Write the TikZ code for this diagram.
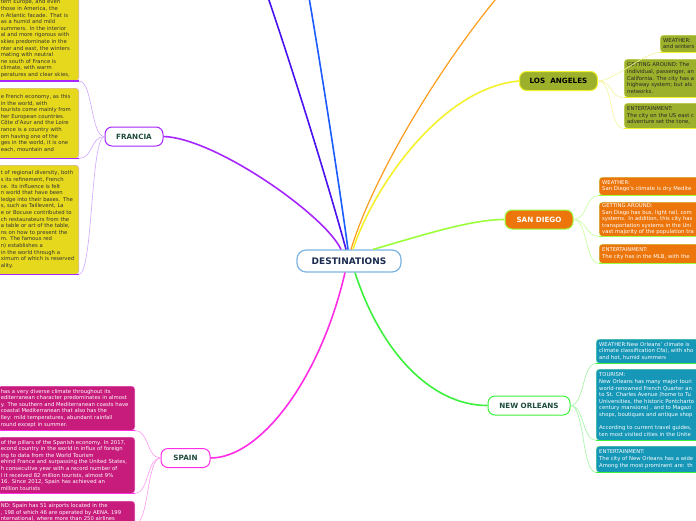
\documentclass[tikz,border=0pt]{standalone}
\usepackage{fontspec}
\setmainfont{DejaVu Sans}
\usepackage{xcolor}
\usepackage{tikz}
\usetikzlibrary{positioning}
\definecolor{rootblue}{HTML}{7CB4E2}
\definecolor{rootink}{HTML}{1B2B4F}
\definecolor{topicink}{HTML}{1E4B3C}
\definecolor{frpurple}{HTML}{A626FF}
\definecolor{frlight}{HTML}{D2A6FF}
\definecolor{frfill}{HTML}{E6D81C}
\definecolor{esmagenta}{HTML}{FF2EE6}
\definecolor{eslight}{HTML}{FF99F2}
\definecolor{esfill}{HTML}{C71C7C}
\definecolor{layellow}{HTML}{F4F22E}
\definecolor{lalight}{HTML}{F5F59A}
\definecolor{lafill}{HTML}{9CB02C}
\definecolor{sdlime}{HTML}{9CFF3C}
\definecolor{sdlight}{HTML}{C3FF9A}
\definecolor{sdfill}{HTML}{EC760C}
\definecolor{nogreen}{HTML}{3CF03C}
\definecolor{nolight}{HTML}{A0F5A0}
\definecolor{nofill}{HTML}{1697B7}
\definecolor{indigoline}{HTML}{4A12F0}
\definecolor{blueline}{HTML}{1C5CFF}
\definecolor{orangeline}{HTML}{FF9C1C}
\newcommand\leaffont{\fontsize{5.3}{6.6}\selectfont\hyphenpenalty=10000}
\newcommand\topicfont{\fontsize{7.2}{8.5}\selectfont\bfseries}
\tikzset{
  rootbox/.style={draw=rootblue,fill=white,line width=1.2pt,rounded corners=9pt,
    minimum width=104pt,minimum height=22pt,text=rootink,
    font=\fontsize{9}{10}\selectfont\bfseries},
  topicbox/.style={fill=white,line width=1pt,rounded corners=7pt,minimum height=19pt,
    inner xsep=4pt,font=\topicfont,text=topicink},
  leafbox/.style={rounded corners=3pt,inner xsep=3pt,inner ysep=1pt,align=left,
    font=\leaffont,line width=0.4pt},
  frleaf/.style={leafbox,fill=frfill,draw=frlight,text=black!80,text width=75pt,anchor=north east},
  esleaf/.style={leafbox,fill=esfill,draw=eslight,text=white,text width=131pt,anchor=north east},
  laleaf/.style={leafbox,fill=lafill,draw=lalight,text=black!85,text width=120pt,anchor=north west},
  sdleaf/.style={leafbox,fill=sdfill,draw=sdlight,text=white,text width=120pt,anchor=north west},
  noleaf/.style={leafbox,fill=nofill,draw=nolight,text=white,text width=120pt,anchor=north west},
  mainbranch/.style={line width=1.6pt},
  subbranch/.style={line width=0.6pt},
  underline/.style={line width=1.3pt}
}
\begin{document}
\begin{tikzpicture}[x=1pt,y=-1pt]
  \fill[white] (0,0) rectangle (696,520);
  \useasboundingbox (0,0) rectangle (696,520);

  % topics
  \node[rootbox] (dest) at (349,261) {DESTINATIONS};
  \node[topicbox,draw=frpurple,minimum width=58pt] (francia) at (134,136.5) {FRANCIA};
  \node[topicbox,draw=layellow,fill=lafill,text=black,minimum width=78pt] (la) at (558.5,81) {LOS\ \ ANGELES};
  \node[topicbox,draw=sdlime,fill=sdfill,text=white,minimum width=68pt] (sandiego) at (539,219.5) {SAN DIEGO};
  \node[topicbox,draw=nogreen,minimum width=82pt] (neworleans) at (529,405.5) {NEW ORLEANS};
  \node[topicbox,draw=esmagenta,minimum width=49pt] (spain) at (185.5,458) {SPAIN};
  \coordinate (offindigo) at (262,-20);
  \coordinate (offblue) at (306,-20);
  \coordinate (offorange) at (512,-20);

  % France
  \node[frleaf,anchor=south east,minimum height=84pt] (frclimate) at (79,81)
    {tern Europe, and even\\those in America, the\\n Atlantic facade. That is\\as a humid and mild\\
     summers. In the interior\\al and more rigorous with\\skies predominate in the\\
     nter and east, the winters\\mating with neutral\\ne south of France is\\
     climate, with warm\\peratures and clear skies,};
  \node[frleaf,minimum height=70pt] (frtourism) at (79,88)
    {e French economy, as this\\in the world, with\\tourists come mainly from\\
     her European countries.\\Côte d'Azur and the Loire\\rance is a country with\\
     om having one of the\\ges in the world, it is one\\each, mountain and};
  \node[frleaf,minimum height=109pt] (frcuisine) at (79,165)
    {t of regional diversity, both\\s its refinement, French\\ce. Its influence is felt\\
     n world that have been\\ledge into their bases. The\\s, such as Taillevent, La\\
     e or Bocuse contributed to\\ch restaurateurs from the\\a table or art of the table,\\
     ns on how to present the\\m. The famous red\\n) establishes a\\
     in the world through a\\ximum of which is reserved\\ality.};

  % Spain
  \node[esleaf,minimum height=44pt] (esclimate) at (135,386)
    {has a very diverse climate throughout its\\editerranean character predominates in almost\\
     y. The southern and Mediterranean coasts have\\coastal Mediterranean that also has the\\
     lley: mild temperatures, abundant rainfall\\round except in summer.};
  \node[esleaf,minimum height=56pt] (estourism) at (135,437)
    {of the pillars of the Spanish economy. In 2017,\\econd country in the world in influx of foreign\\
     ing to data from the World Tourism\\ehind France and surpassing the United States,\\
     h consecutive year with a record number of\\l it received 82 million tourists, almost 9\%\\
     16. Since 2012, Spain has achieved an\\million tourists};
  \node[esleaf,inner ysep=2.5pt] (esairports) at (135,501)
    {ND: Spain has 51 airports located in the\\, 198 of which 46 are operated by AENA. 199\\
     nternational, where more than 250 airlines};

  % Los Angeles
  \node[laleaf,minimum height=17pt] (laweather) at (660,35) {WEATHER:\\and winters};
  \node[laleaf,minimum height=38pt] (latransport) at (624,59)
    {GETTING AROUND: The\\individual, passenger, an\\California. The city has a\\highway system; but als\\networks.};
  \node[laleaf,minimum height=25pt] (lafun) at (624,103)
    {ENTERTAINMENT:\\The city on the US east c\\adventure set the tone,};

  % San Diego
  \node[sdleaf,minimum height=18pt] (sdweather) at (599,177)
    {WEATHER:\\San Diego's climate is dry Medite};
  \node[sdleaf,minimum height=34pt] (sdtransport) at (599,202)
    {GETTING AROUND:\\San Diego has bus, light rail, com\\systems. In addition, this city has\\
     transportation systems in the Uni\\vast majority of the population tra};
  \node[sdleaf,minimum height=19pt] (sdfun) at (599,244)
    {ENTERTAINMENT:\\The city has in the MLB, with the};

  % New Orleans
  \node[noleaf,minimum height=24pt] (noweather) at (596,339)
    {WEATHER:New Orleans' climate is\\climate classification Cfa), with sho\\and hot, humid summers};
  \node[noleaf,minimum height=71pt] (notourism) at (596,369)
    {TOURISM:\\New Orleans has many major touri\\world-renowned French Quarter an\\
     to St. Charles Avenue (home to Tu\\Universities, the historic Pontcharto\\
     century mansions) , and to Magazi\\shops, boutiques and antique shop\\[6.6pt]
     According to current travel guides,\\ten most visited cities in the Unite};
  \node[noleaf,minimum height=26pt] (nofun) at (596,446)
    {ENTERTAINMENT:\\The city of New Orleans has a wide\\Among the most prominent are: th};

  % main branches
  \draw[mainbranch,frpurple] ([xshift=-8pt]dest.north) .. controls (325,215) and (215,138) .. (francia.east);
  \draw[mainbranch,indigoline] ([xshift=-3pt]dest.north) .. controls (330,190) and (290,60) .. (offindigo);
  \draw[mainbranch,blueline] ([xshift=-1pt]dest.north) .. controls (340,190) and (320,60) .. (offblue);
  \draw[mainbranch,orangeline,line width=1.2pt] ([xshift=2pt]dest.north) .. controls (375,170) and (450,50) .. (offorange);
  \draw[mainbranch,layellow] ([xshift=4pt]dest.north) .. controls (372,190) and (440,88) .. (la.west);
  \draw[mainbranch,sdlime] ([xshift=24pt]dest.north) .. controls (420,236) and (470,219.5) .. (sandiego.west);
  \draw[mainbranch,nogreen] ([xshift=6pt]dest.south) .. controls (380,350) and (430,405.5) .. (neworleans.west);
  \draw[mainbranch,esmagenta] ([xshift=-4pt]dest.south) .. controls (320,380) and (260,458) .. (spain.east);

  % sub branches
  \foreach \leaf in {frclimate,frtourism,frcuisine}
    \draw[subbranch,frlight] (francia.west) .. controls +(-14,0) and +(14,0) .. (\leaf.south east);
  \foreach \leaf in {esclimate,estourism,esairports}
    \draw[subbranch,eslight] (spain.west) .. controls +(-14,0) and +(14,0) .. (\leaf.south east);
  \foreach \leaf in {laweather,latransport,lafun}
    \draw[subbranch,lalight] (la.east) .. controls +(16,0) and +(-16,0) .. (\leaf.south west);
  \foreach \leaf in {sdweather,sdtransport,sdfun}
    \draw[subbranch,sdlight] (sandiego.east) .. controls +(14,0) and +(-14,0) .. (\leaf.south west);
  \foreach \leaf in {noweather,notourism,nofun}
    \draw[subbranch,nolight] (neworleans.east) .. controls +(14,0) and +(-14,0) .. (\leaf.south west);

  % underlines
  \foreach \leaf in {frclimate,frtourism,frcuisine}
    \draw[underline,frpurple] (\leaf.south west) -- (\leaf.south east);
  \foreach \leaf in {esclimate,estourism,esairports}
    \draw[underline,esmagenta] (\leaf.south west) -- (\leaf.south east);
  \foreach \leaf in {laweather,latransport,lafun}
    \draw[underline,layellow] (\leaf.south west) -- (\leaf.south east);
  \foreach \leaf in {sdweather,sdtransport,sdfun}
    \draw[underline,sdlime] (\leaf.south west) -- (\leaf.south east);
  \foreach \leaf in {noweather,notourism,nofun}
    \draw[underline,nogreen] (\leaf.south west) -- (\leaf.south east);
\end{tikzpicture}
\end{document}
